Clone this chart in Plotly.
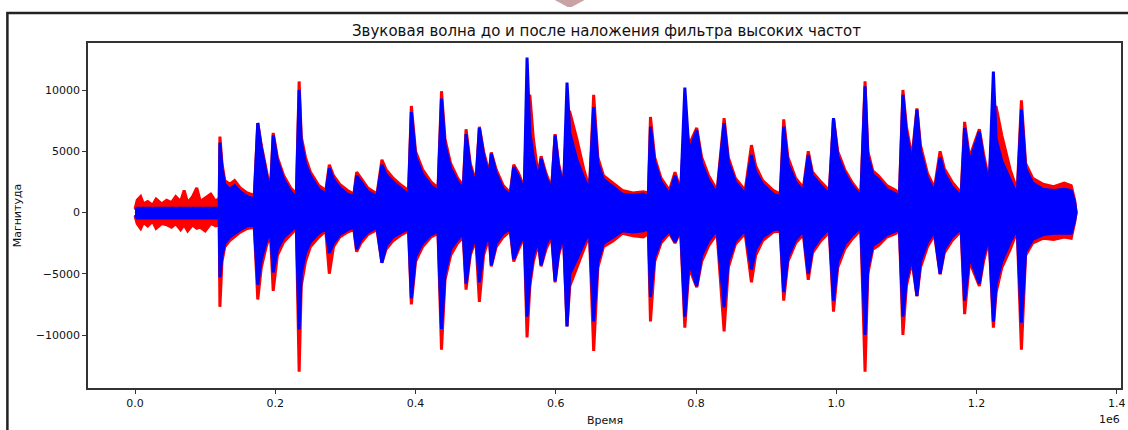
import plotly.graph_objects as go

# ---- data (time in samples, magnitudes) ----
time_k = [0, 3, 8, 12, 18, 25, 30, 38, 45, 52, 58, 65, 70, 75, 82, 88, 93, 100, 108, 115, 120,
          121, 124, 128, 135, 142, 150, 160, 170,
          175, 180, 187, 193,
          197, 203, 212, 222, 230,
          234, 237, 243, 250, 262, 272,
          277, 283, 292, 303, 312,
          316, 322, 332, 345,
          352, 358, 368, 380, 390,
          394, 400, 410, 422, 432,
          437, 442, 450, 460, 468,
          472, 478, 486,
          491, 497, 505,
          508, 515, 525, 535,
          540, 547, 555,
          559, 563, 568, 575,
          579, 586, 594,
          599, 604, 611,
          616, 620, 630, 640, 648,
          654, 660, 668, 682, 695, 710, 725, 732,
          735, 741, 750, 762, 770, 778,
          784, 790,
          801, 808, 818, 830,
          840, 846, 856, 870,
          879, 885, 895, 910, 920,
          925, 931, 942, 953,
          960, 966, 978, 990,
          996, 1002, 1012, 1022, 1035,
          1041, 1045, 1052, 1060, 1072, 1085, 1090,
          1095, 1100, 1108,
          1115, 1120, 1130, 1140,
          1148, 1154, 1165, 1178,
          1183, 1190,
          1204, 1210, 1218,
          1224, 1228, 1236, 1248, 1258,
          1264, 1270, 1280, 1295, 1310, 1325, 1335, 1340, 1342]

orig_upper = [300, 1000, 1300, 700, 900, 600, 1100, 700, 1000, 800, 1300, 900, 1800, 800, 1300, 2000, 900, 1200, 1500, 900, 1200,
              6200, 4000, 2600, 2300, 2600, 2000, 1600, 1400,
              7300, 5500, 3500, 1800,
              6500, 4500, 3000, 2000, 1500,
              10700, 6200, 4500, 3300, 2200, 1800,
              3900, 3000, 2300, 1800, 1500,
              3300, 2800, 2000, 1500,
              4300, 3500, 2800, 2200, 1800,
              8700, 5000, 3500, 2500, 2000,
              9900, 6000, 4000, 2800, 2200,
              6800, 4000, 2500,
              7000, 5000, 3200,
              4900, 3500, 2200, 1600,
              3900, 3200, 2000,
              9000, 9600, 6000, 3000,
              4600, 3200, 2000,
              6400, 4000, 2200,
              8200, 8200, 6000, 3500, 2000,
              9600, 4500, 3000, 2400, 1800, 1600, 1700, 1600,
              7800, 4500, 2800, 1800, 3300, 1800,
              7800, 5500,
              6900, 4500, 3000, 1800,
              7700, 4500, 2800, 1800,
              5500, 3800, 2600, 1800, 1500,
              7600, 4500, 2800, 2000,
              5000, 3300, 2500, 1800,
              7700, 5000, 3500, 2500, 1500,
              10700, 5000, 3400, 3000, 2200, 1800, 1500,
              10000, 7000, 4500,
              8500, 5500, 3200, 2000,
              5000, 3600, 2500, 1600,
              7400, 4500,
              6800, 4800, 2500,
              8700, 8600, 6300, 3500, 1800,
              9150, 4000, 2800, 2300, 2100, 2400, 2200, 1000, 0]

orig_lower = [-300, -900, -1300, -800, -1100, -700, -1300, -900, -1000, -1200, -900, -1400, -1000, -1500, -1000, -1300, -1200, -1500, -900, -1100, -1000,
              -7700, -4000, -2800, -2300, -2000, -1600, -1300, -1200,
              -7100, -4500, -2800, -1700,
              -6400, -3500, -2400, -1800, -1300,
              -13000, -6000, -4000, -2800, -2000, -1500,
              -5000, -2800, -2000, -1600, -1400,
              -3200, -2500, -1800, -1400,
              -4100, -3000, -2300, -1800, -1500,
              -7500, -4000, -2800, -2000, -1700,
              -11200, -5500, -3500, -2500, -2000,
              -6300, -3500, -2200,
              -7300, -3500, -2000,
              -4400, -2800, -2000, -1500,
              -4000, -3000, -2000,
              -10200, -6000, -4000, -2500,
              -4400, -3000, -2000,
              -5700, -3500, -2000,
              -9300, -6000, -4500, -3000, -1800,
              -11300, -4500, -2800, -2300, -1700, -1900, -2000, -1700,
              -8900, -4000, -2500, -1700, -2500, -1500,
              -9400, -4500,
              -6100, -4000, -2700, -1700,
              -9700, -4500, -2600, -1700,
              -5700, -3500, -2300, -1600, -1500,
              -7200, -4000, -2500, -1800,
              -5500, -3300, -2300, -1600,
              -8100, -4500, -3000, -2200, -1400,
              -13000, -5000, -3000, -2700, -2000, -1700, -1500,
              -10000, -6000, -4000,
              -6850, -4500, -2800, -1800,
              -5050, -3300, -2300, -1500,
              -8300, -4000,
              -6000, -4000, -2200,
              -9400, -6500, -4500, -3000, -1500,
              -11200, -3500, -2500, -2100, -2200, -2000, -2100, -800, 0]

filt_upper = [200, 350, 350, 350, 350, 350, 350, 350, 350, 350, 350, 350, 350, 350, 350, 350, 350, 350, 350, 350, 350,
              5700, 3600, 2300, 1900, 2200, 1700, 1300, 1100,
              7300, 5300, 3200, 1500,
              6300, 4200, 2700, 1700, 1200,
              10000, 5800, 4000, 3000, 1900, 1500,
              3600, 2700, 2000, 1500, 1300,
              3000, 2500, 1700, 1300,
              3900, 3100, 2500, 1900, 1500,
              8200, 4600, 3100, 2200, 1700,
              9300, 5500, 3600, 2500, 1900,
              6400, 3700, 2200,
              6900, 4700, 2900,
              4800, 3200, 1900, 1400,
              3700, 2900, 1800,
              12650, 6500, 4500, 2700,
              4400, 2900, 1800,
              6300, 3700, 1900,
              10600, 6500, 4300, 2800, 1800,
              8600, 4000, 2700, 2100, 1500, 1400, 1500, 1300,
              7000, 4100, 2500, 1500, 3000, 1500,
              10200, 5000,
              6700, 4000, 2600, 1500,
              7300, 4100, 2500, 1500,
              4700, 3300, 2300, 1500, 1300,
              7000, 4000, 2500, 1700,
              4700, 3000, 2200, 1500,
              7700, 4600, 3200, 2200, 1300,
              10300, 4600, 3100, 2700, 1900, 1500, 1300,
              9600, 6500, 4000,
              8400, 5000, 2800, 1700,
              4500, 3200, 2100, 1300,
              6900, 4100,
              6600, 4300, 2200,
              11500, 6000, 4200, 2600, 1400,
              8400, 3600, 2400, 1900, 1800, 1900, 1800, 800, 0]

filt_lower = [-200, -450, -450, -450, -450, -450, -450, -450, -450, -450, -450, -450, -450, -450, -450, -450, -450, -450, -450, -450, -450,
              -5300, -3500, -2500, -2000, -1700, -1400, -1100, -1000,
              -5900, -3800, -2400, -1400,
              -4900, -3000, -2000, -1500, -1100,
              -9550, -5000, -3300, -2400, -1700, -1300,
              -3300, -2500, -1800, -1400, -1200,
              -3000, -2200, -1600, -1200,
              -4100, -2700, -2000, -1600, -1300,
              -7000, -3600, -2500, -1800, -1500,
              -9500, -5000, -3000, -2200, -1700,
              -5800, -3200, -1900,
              -5700, -3000, -1700,
              -4300, -2500, -1700, -1300,
              -3800, -2700, -1800,
              -8500, -5500, -3500, -2200,
              -4300, -2600, -1700,
              -5600, -3200, -1700,
              -9300, -5000, -3800, -2500, -1600,
              -8900, -4000, -2500, -2000, -1500, -1600, -1500, -1300,
              -6900, -3600, -2200, -1500, -2400, -1300,
              -8500, -4000,
              -6000, -3500, -2300, -1400,
              -7750, -4000, -2300, -1400,
              -4650, -3000, -2000, -1400, -1300,
              -6500, -3600, -2200, -1500,
              -5000, -3000, -2000, -1300,
              -7200, -4000, -2600, -1900, -1200,
              -10000, -4500, -2700, -2400, -1800, -1500, -1300,
              -8500, -5500, -3600,
              -6800, -4000, -2400, -1500,
              -5000, -3000, -2000, -1300,
              -7200, -3600,
              -5800, -3500, -2000,
              -8900, -5800, -4000, -2400, -1300,
              -9000, -3200, -2200, -1800, -1700, -1700, -1700, -600, 0]

time_samples = [t * 1000 for t in time_k]

x_tick_vals = [0, 200000, 400000, 600000, 800000, 1000000, 1200000, 1400000]
x_tick_text = ["0.0", "0.2", "0.4", "0.6", "0.8", "1.0", "1.2", "1.4"]
y_tick_vals = [-10000, -5000, 0, 5000, 10000]
y_tick_text = ["\u221210000", "\u22125000", "0", "5000", "10000"]

title_text = "Звуковая волна до и после наложения фильтра высоких частот"
x_label = "Время"
y_label = "Магнитуда"

FONT = "DejaVu Sans, Verdana, sans-serif"


def envelope(t, up, lo):
    return t + t[::-1], up + lo[::-1]


fig = go.Figure()
for name, up, lo, col in [("Оригинал", orig_upper, orig_lower, "#ff0000"),
                          ("Фильтр", filt_upper, filt_lower, "#0000ff")]:
    xs, ys = envelope(time_samples, up, lo)
    fig.add_trace(go.Scatter(x=xs, y=ys, mode="lines", fill="toself",
                             fillcolor=col, line=dict(color=col, width=3),
                             name=name, showlegend=False, hoverinfo="skip"))

# plot area in pixels: left 88, right 1126, top 43, bottom 388
L, R, T, B = 88, 1126, 43, 388
W, H = 1128, 430


def px(x):
    return (x - L) / (R - L)


def py(y):
    return (B - y) / (B - T)


fig.update_layout(
    width=W, height=H,
    margin=dict(l=L, r=W - R, t=T, b=H - B),
    paper_bgcolor="white", plot_bgcolor="white",
    font=dict(family=FONT, size=11, color="#111"),
    showlegend=False,
    xaxis=dict(range=[-67100, 1406000], tickvals=x_tick_vals, ticktext=x_tick_text,
               showgrid=False, zeroline=False, showline=True, mirror=True,
               linecolor="#333", linewidth=1.5, ticks="outside", ticklen=4,
               tickcolor="#333", tickfont=dict(size=11), ticklabeloverflow="allow"),
    yaxis=dict(range=[-14327, 13837], tickvals=y_tick_vals, ticktext=y_tick_text,
               showgrid=False, zeroline=False, showline=True, mirror=True,
               linecolor="#333", linewidth=1.5, ticks="outside", ticklen=4,
               tickcolor="#333", tickfont=dict(size=11)),
    shapes=[
        dict(type="rect", xref="paper", yref="paper",
             x0=px(7), x1=px(1140), y0=py(445), y1=py(13),
             line=dict(color="#222", width=2.5), fillcolor="rgba(0,0,0,0)", layer="below"),
        dict(type="path", xref="paper", yref="paper",
             path=f"M {px(557)} {py(0)} L {px(587)} {py(0)} L {px(574)} {py(7)} L {px(570)} {py(7)} Z",
             fillcolor="#c9a3a3", line=dict(width=0)),
    ],
    annotations=[
        dict(text=title_text, xref="paper", yref="paper", x=px(609), y=py(31),
             xanchor="center", yanchor="middle", showarrow=False,
             font=dict(family=FONT, size=15, color="#111")),
        dict(text=x_label, xref="paper", yref="paper", x=px(607), y=py(420),
             xanchor="center", yanchor="middle", showarrow=False,
             font=dict(family=FONT, size=11, color="#111")),
        dict(text=y_label, xref="paper", yref="paper", x=px(17), y=py(215),
             xanchor="center", yanchor="middle", showarrow=False, textangle=-90,
             font=dict(family=FONT, size=11, color="#111")),
        dict(text="1e6", xref="paper", yref="paper", x=px(1127), y=py(419),
             xanchor="right", yanchor="middle", showarrow=False,
             font=dict(family=FONT, size=11, color="#111")),
    ],
)

fig.write_html("out.html", config={"displayModeBar": False},
               post_script="document.body.style.margin='0';document.body.style.overflow='hidden';")
